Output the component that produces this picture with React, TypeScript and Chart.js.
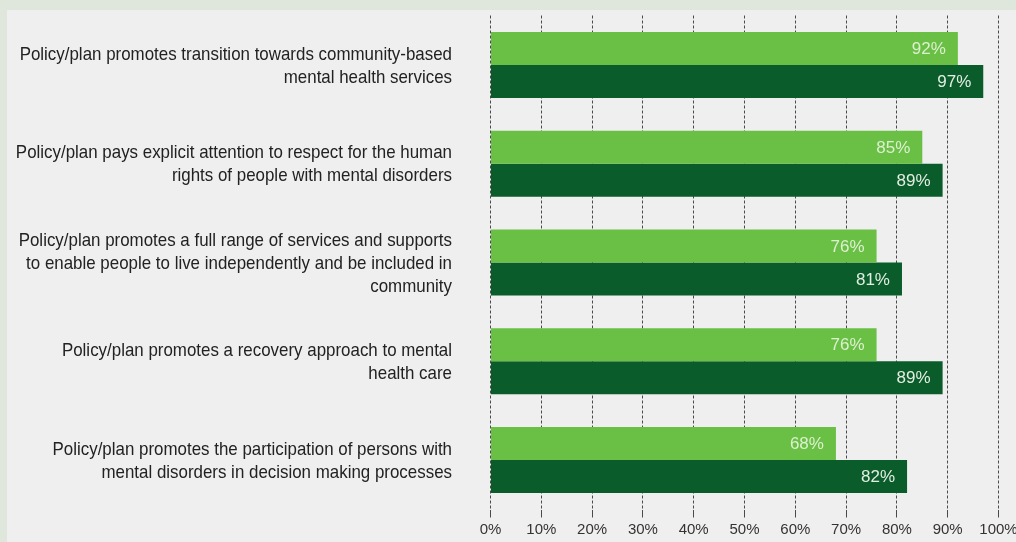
import React, { useEffect, useRef } from "react";
import { Chart, registerables } from "chart.js";

Chart.register(...registerables);

const categories: string[][] = [
  ["Policy/plan promotes transition towards community-based", "mental health services"],
  ["Policy/plan pays explicit attention to respect for the human", "rights of people with mental disorders"],
  ["Policy/plan promotes a full range of services and supports", "to enable people to live independently and be included in", "community"],
  ["Policy/plan promotes a recovery approach to mental", "health care"],
  ["Policy/plan promotes the participation of persons with", "mental disorders in decision making processes"],
];
const seriesLight: number[] = [92, 85, 76, 76, 68];
const seriesDark: number[] = [97, 89, 81, 89, 82];
const xTicks: number[] = [0, 10, 20, 30, 40, 50, 60, 70, 80, 90, 100];

const LIGHT = "#6abf45";
const DARK = "#0b5c2b";

const backgroundPlugin = {
  id: "bgPanel",
  beforeDraw(chart: any) {
    const { ctx, width, height } = chart;
    ctx.save();
    ctx.fillStyle = "#dfe6dc";
    ctx.fillRect(0, 0, width, height);
    ctx.fillStyle = "#efefef";
    ctx.fillRect(7, 10, width - 7, height - 10);
    ctx.restore();
  },
};

// Category labels, condensed like the original's narrow typeface
const categoryLabelPlugin = {
  id: "categoryLabels",
  afterDraw(chart: any) {
    const { ctx } = chart;
    const yScale = chart.scales.y;
    const lineH = 23;
    const sx = 0.89;
    ctx.save();
    ctx.font = "19px 'Liberation Sans', Arial, sans-serif";
    ctx.fillStyle = "#222222";
    ctx.textAlign = "right";
    ctx.textBaseline = "middle";
    const right = chart.chartArea.left - 38.5;
    (chart.data.labels as string[][]).forEach((lines, i) => {
      const cy = yScale.getPixelForTick(i);
      const y0 = cy - ((lines.length - 1) * lineH) / 2;
      lines.forEach((line, li) => {
        ctx.save();
        ctx.translate(right, y0 + li * lineH + 1);
        ctx.scale(sx, 1);
        ctx.fillText(line, 0, 0);
        ctx.restore();
      });
    });
    ctx.restore();
  },
};

const valueLabelPlugin = {
  id: "valueLabels",
  afterDatasetsDraw(chart: any) {
    const { ctx } = chart;
    ctx.save();
    ctx.font = "17px 'Liberation Sans', Arial, sans-serif";
    ctx.textAlign = "right";
    ctx.textBaseline = "middle";
    chart.data.datasets.forEach((ds: any, di: number) => {
      const meta = chart.getDatasetMeta(di);
      meta.data.forEach((bar: any, i: number) => {
        ctx.fillStyle = di === 0 ? "#dcf0cf" : "#e2eee2";
        ctx.fillText(ds.data[i] + "%", bar.x - 12, bar.y + 1);
      });
    });
    ctx.restore();
  },
};

export default function App() {
  const ref = useRef<HTMLCanvasElement | null>(null);
  useEffect(() => {
    if (!ref.current) return;
    const chart = new Chart(ref.current, {
      type: "bar",
      data: {
        labels: categories as any,
        datasets: [
          { data: seriesLight, backgroundColor: LIGHT, categoryPercentage: 0.668, barPercentage: 1 },
          { data: seriesDark, backgroundColor: DARK, categoryPercentage: 0.668, barPercentage: 1 },
        ],
      },
      options: {
        indexAxis: "y",
        animation: false,
        responsive: false,
        devicePixelRatio: 1,
        layout: { padding: { top: 15.5, right: 17.5, left: 0, bottom: 0 } },
        plugins: { legend: { display: false }, tooltip: { enabled: false } },
        scales: {
          x: {
            min: 0,
            max: 100,
            afterBuildTicks(scale: any) {
              scale.ticks = xTicks.map((v) => ({ value: v }));
            },
            afterFit(scale: any) {
              scale.height = 32.5;
              scale.paddingLeft = 0;
              scale.paddingRight = 0;
            },
            grid: {
              color: "#4a4a4a",
              lineWidth: 1,
              tickLength: 8,
              drawTicks: true,
            },
            border: { display: false, dash: [3, 2] },
            ticks: {
              color: "#333333",
              padding: 3,
              font: { family: "'Liberation Sans', Arial, sans-serif", size: 15 },
              callback: (v: any) => v + "%",
              maxRotation: 0,
              autoSkip: false,
            },
          },
          y: {
            afterFit(scale: any) {
              scale.width = 490.5;
              scale.paddingTop = 0;
              scale.paddingBottom = 0;
            },
            grid: { display: false, drawTicks: false },
            border: { display: false },
            ticks: { display: false },
          },
        },
      } as any,
      plugins: [backgroundPlugin, valueLabelPlugin, categoryLabelPlugin],
    });
    return () => chart.destroy();
  }, []);
  return (
    <div style={{ position: "absolute", left: 0, top: 0, width: 1016, height: 542 }}>
      <canvas ref={ref} width={1016} height={542} style={{ display: "block" }} />
    </div>
  );
}
